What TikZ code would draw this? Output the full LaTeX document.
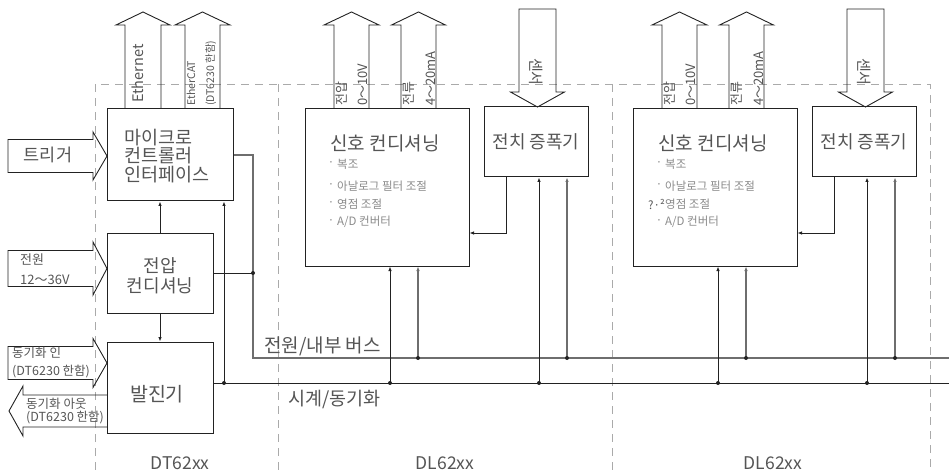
\documentclass[tikz,border=0pt]{standalone}
\usepackage{fontspec}
\setmainfont{Noto Sans CJK KR}
\usetikzlibrary{arrows.meta}
\definecolor{ln}{HTML}{222222}
\definecolor{txt}{HTML}{555555}
\definecolor{lt}{HTML}{8A8A8A}
\definecolor{dsh}{HTML}{AAAAAA}
\definecolor{pw}{HTML}{6E6E6E}
\newcommand\szBig{\fontsize{17.5}{18.5}\selectfont}
\newcommand\szMcu{\fontsize{18.5}{18.5}\selectfont}
\newcommand\szTtl{\fontsize{19}{20}\selectfont}
\newcommand\szMid{\fontsize{13}{15}\selectfont}
\newcommand\szSm{\fontsize{12.5}{13}\selectfont}
\newcommand\szBul{\fontsize{11.5}{12}\selectfont}
\newcommand\szEth{\fontsize{14.5}{16}\selectfont}
\newcommand\szCat{\fontsize{10.5}{12}\selectfont}
% cx, shaft half, head half, tip y, head base y, bottom y
\newcommand\fatUp[6]{\draw[fat] ({#1-#2},#6) -- ({#1-#2},#5) -- ({#1-#3},#5) -- (#1,#4) -- ({#1+#3},#5) -- ({#1+#2},#5) -- ({#1+#2},#6);}
% cx, shaft half, head half, top y, head base y, tip y
\newcommand\fatDown[6]{\draw[fat] ({#1-#2},#5) -- ({#1-#2},#4) -- ({#1+#2},#4) -- ({#1+#2},#5) -- ({#1+#3},#5) -- (#1,#6) -- ({#1-#3},#5) -- cycle;}
% cy, shaft half, head half, left x, head base x, tip x
\newcommand\fatRight[6]{\draw[fat] (#5,{#1-#2}) -- (#4,{#1-#2}) -- (#4,{#1+#2}) -- (#5,{#1+#2}) -- (#5,{#1+#3}) -- (#6,#1) -- (#5,{#1-#3}) -- cycle;}
\begin{document}
\begin{tikzpicture}[x=1pt,y=-1pt,
  box/.style={draw=ln, line width=1pt, inner sep=0pt, fill=none},
  fat/.style={draw=ln, line width=0.9pt, line join=miter},
  conn/.style={draw=ln, line width=0.9pt},
  pwr/.style={draw=pw, line width=1.1pt},
  arr/.style={-{Latex[length=4.5pt,width=3.5pt]}},
  dashln/.style={draw=dsh, line width=0.9pt, dash pattern=on 8pt off 6pt},
  bigtxt/.style={text=txt, font=\szBig, inner sep=0pt, align=center},
  midtxt/.style={text=txt, font=\szMid, inner sep=0pt},
  smtxt/.style={text=txt, font=\szSm, inner sep=0pt},
  bultxt/.style={text=lt, font=\szBul, inner sep=0pt, anchor=west},
  rtxt/.style={rotate=90, anchor=base west, inner sep=0pt, text=txt},
  dot/.style={fill=ln}
]
\useasboundingbox (0,0) rectangle (949,470);

% dashed module frames
\draw[dashln] (95,470) -- (95,84) -- (930,84) -- (930,470);
\draw[dashln] (278,84) -- (278,470);
\draw[dashln] (612,84) -- (612,470);

% ---------- DT62xx ----------
\node[box, minimum width=126pt, minimum height=92pt] (mcu) at (170,155) {};
\node[box, minimum width=106pt, minimum height=80pt] (volt) at (160,273) {};
\node[box, minimum width=106pt, minimum height=91pt] (osc) at (160,387.5) {};
\node[bigtxt, font=\szMcu, anchor=west, align=left] (mcut) at (124,156) {마이크로\\컨트롤러\\인터페이스};
\node[bigtxt, font=\fontsize{18}{20.5}\selectfont] (voltt) at (160,276) {전압\\컨디셔닝};
\node[bigtxt, font=\fontsize{19.5}{20}\selectfont] (osct) at (157,394) {발진기};

% top arrows
\fatUp{143}{18}{27}{12}{25}{109}
\fatUp{202.5}{17.5}{27.5}{12}{25}{109}
\node[rtxt, font=\szEth] (eth) at (143,103) {Ethernet};
\node[rtxt, font=\szCat] (cat1) at (195,106) {EtherCAT};
\node[rtxt, font=\szCat] (cat2) at (214,106) {(DT6230 한함)};

% left arrows
\fatRight{156}{16.5}{24}{8}{93}{107}
\node[bigtxt] (trig) at (48,155) {트리거};
\fatRight{268.5}{18}{26.5}{8}{93}{107}
\node[midtxt, anchor=west] (pin1) at (20,260) {전원};
\node[midtxt, anchor=west] (pin2) at (20,280) {12～36V};
\fatRight{363}{16.5}{24.5}{8}{93}{107}
\node[smtxt, anchor=west] (sin1) at (12,353) {동기화 인};
\node[smtxt, anchor=west] (sin2) at (12,372) {(DT6230 한함)};
\draw[fat] (107,395) -- (23,395) -- (23,386) -- (9,411) -- (23,436) -- (23,427) -- (107,427);
\node[smtxt, anchor=west] (sout1) at (26,404) {동기화 아웃};
\node[smtxt, anchor=west] (sout2) at (26,418) {(DT6230 한함)};

% internal connectors
\coordinate (pbus0) at (253,358);
\coordinate (pbusR) at (949,358);
\coordinate (cbusR) at (949,383);
\coordinate (jv) at (253,273);
\coordinate (jc) at (224,383);
\draw[pwr] (mcu.east) -| (pbus0) -- (pbusR);
\draw[conn] (volt.east) -- (jv);
\draw[conn] (osc.east |- cbusR) -- (cbusR);
\draw[conn,arr] (jc) -- (jc |- mcu.south);
\draw[conn,arr] (volt.north) -- (volt.north |- mcu.south);
\draw[conn,arr] (volt.south) -- (osc.north);
\fill[dot] (jv) circle (2pt);
\fill[dot] (jc) circle (2pt);

\node[bigtxt, font=\fontsize{19}{20}\selectfont, anchor=west] (pbl) at (264,346) {전원/내부 버스};
\node[bigtxt, font=\fontsize{18.5}{20}\selectfont, anchor=west] (cbl) at (288,400) {시계/동기화};

% ---------- DL62xx modules ----------
\foreach \o/\n in {0/a,328/b}{
  \node[box, minimum width=164pt, minimum height=157pt] (sig\n) at (387+\o,187.5) {};
  \node[box, minimum width=104pt, minimum height=70pt] (pre\n) at (536+\o,142) {};
  \node[bigtxt, font=\szTtl] (sigt\n) at (385+\o,143) {신호 컨디셔닝};
  \node[bigtxt, font=\fontsize{18}{20}\selectfont] (pret\n) at (536+\o,142) {전치 증폭기};
  \node[bultxt] (b1\n) at (337+\o,164) {복조};
  \node[bultxt] (b2\n) at (337+\o,186) {아날로그 필터 조절};
  \node[bultxt] (b4\n) at (337+\o,222) {A/D 컨버터};
  \node[text=lt, font=\szBul, inner sep=0pt] (d1\n) at (331+\o,164) {·};
  \node[text=lt, font=\szBul, inner sep=0pt] (d2\n) at (331+\o,186) {·};
  \node[text=lt, font=\szBul, inner sep=0pt] (d4\n) at (331+\o,222) {·};
  % output arrows
  \fatUp{351.5+\o}{17.5}{27.5}{12}{25}{109}
  \fatUp{418.5+\o}{17.5}{27}{12}{25}{109}
  \node[rtxt, font=\szMid] (u1\n) at (346+\o,106) {전압};
  \node[rtxt, font=\szMid] (u2\n) at (367+\o,106) {0～10V};
  \node[rtxt, font=\szMid] (i1\n) at (413+\o,106) {전류};
  \node[rtxt, font=\szMid] (i2\n) at (435+\o,106) {4～20mA};
  % sensor arrow
  \fatDown{537.5+\o}{18.5}{27}{9}{92}{107}
  \node[rotate=-90, text=txt, font=\fontsize{15}{16}\selectfont, inner sep=0pt] (sen\n) at (536+\o,72) {센서};
  % connectors
  \coordinate (c1\n) at (390+\o,383);
  \coordinate (p1\n) at (418+\o,358);
  \coordinate (c2\n) at (539+\o,383);
  \coordinate (p2\n) at (567+\o,358);
  \coordinate (po\n) at (506+\o,177);
  \coordinate (pk\n) at (506+\o,233);
  \draw[conn,arr] (c1\n) -- (c1\n |- sig\n.south);
  \draw[pwr,arr] (p1\n) -- (p1\n |- sig\n.south);
  \draw[conn,arr] (c2\n) -- (c2\n |- pre\n.south);
  \draw[pwr,arr] (p2\n) -- (p2\n |- pre\n.south);
  \draw[conn,arr] (po\n |- pre\n.south) -- (pk\n) -- (pk\n -| sig\n.east);
  \fill[dot] (c1\n) circle (2pt);
  \fill[dot] (p1\n) circle (2pt);
  \fill[dot] (c2\n) circle (2pt);
  \fill[dot] (p2\n) circle (2pt);
}
\node[bultxt] (b3a) at (337,204) {영점 조절};
\node[text=lt, font=\szBul, inner sep=0pt] (d3a) at (331,204) {·};
\node[bultxt] (b3b) at (665,204) {영점 조절};
\node[text=txt, font=\szBul, inner sep=0pt, anchor=east] (d3b) at (665,204) {?·²};

% module labels
\node[bigtxt] (l1) at (180,463) {DT62xx};
\node[bigtxt] (l2) at (445,463) {DL62xx};
\node[bigtxt] (l3) at (773,463) {DL62xx};
\end{tikzpicture}
\end{document}
